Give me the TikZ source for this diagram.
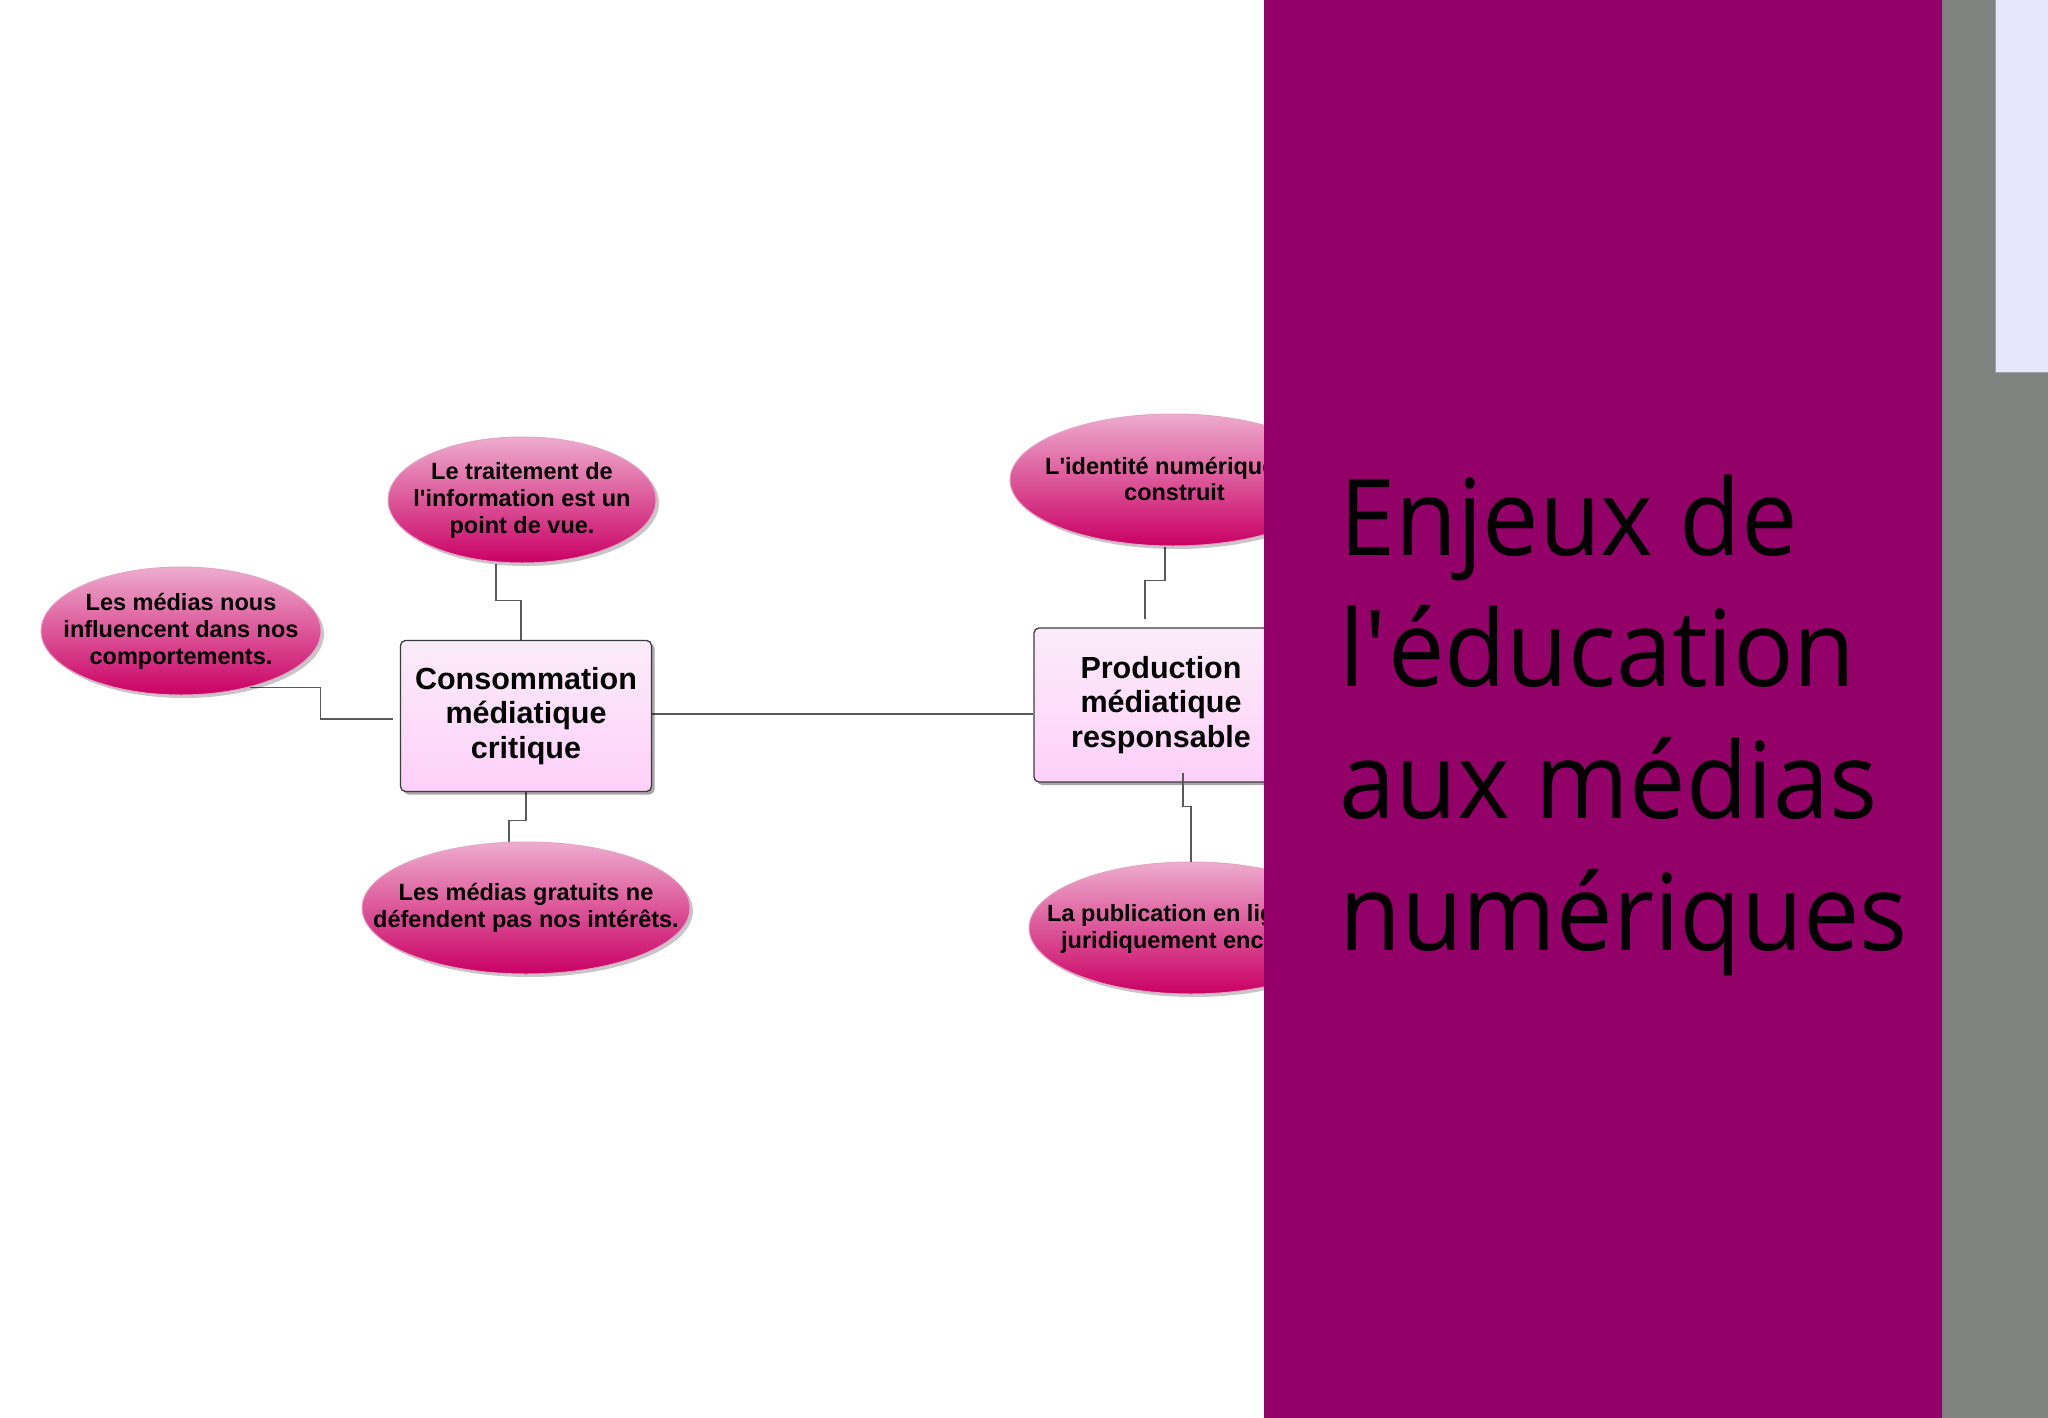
\documentclass[tikz,border=0pt]{standalone}
\usepackage{fontspec}
\setmainfont{Liberation Sans}
\newfontfamily\titlefont[FakeStretch=0.95]{Open Sans}
\usetikzlibrary{shapes.geometric,shadows,calc}
\pgfdeclarelayer{bg}
\pgfsetlayers{bg,main}
\definecolor{panelpurple}{RGB}{147,0,104}
\definecolor{panelgray}{RGB}{128,130,128}
\definecolor{lavender}{RGB}{232,230,252}
\definecolor{elTop}{RGB}{238,172,206}
\definecolor{elMid}{RGB}{214,62,140}
\definecolor{elBot}{RGB}{202,0,100}
\definecolor{elRim}{RGB}{226,165,198}
\definecolor{bxTop}{RGB}{251,236,249}
\definecolor{bxBot}{RGB}{255,208,250}
\definecolor{bxRim}{RGB}{60,60,60}
\definecolor{connc}{RGB}{90,90,90}
\newcommand{\apos}{\textquotesingle}
\begin{document}
\begin{tikzpicture}[x=1pt,y=-1pt,
  bubble/.style={ellipse, draw=elRim, line width=1pt, top color=elTop, middle color=elMid, bottom color=elBot, inner sep=0pt,
    drop shadow={shadow xshift=3pt,shadow yshift=-3pt,fill=black,opacity=0.22}},
  bubbletext/.style={font=\fontsize{23.5}{27}\selectfont\bfseries, align=center, text=black, inner sep=0pt},
  topic/.style={rectangle, rounded corners=5pt, draw=bxRim, line width=1.3pt, top color=bxTop, bottom color=bxBot,
    inner sep=0pt, font=\fontsize{30.5}{34.5}\selectfont\bfseries, align=center, text=black,
    drop shadow={shadow xshift=3pt,shadow yshift=-3pt,fill=black,opacity=0.35}},
  conn/.style={draw=connc, line width=1.1pt},
  titletext/.style={font=\titlefont\fontsize{106}{131}\selectfont, text=black, inner sep=0pt, anchor=base west}]
\useasboundingbox (0,0) rectangle (2048,1418);
\begin{pgfonlayer}{bg}
\fill[white] (0,0) rectangle (2048,1418);
\end{pgfonlayer}

% topics
\node[topic, minimum width=251pt, minimum height=151pt] (b1) at (526,716) {Consommation\\médiatique\\critique};
\node[topic, minimum width=254pt, minimum height=154pt] (b2) at (1161,705) {Production\\médiatique\\responsable};

% bubbles
\node[bubble, minimum width=268pt, minimum height=126pt] (e1) at (522,500) {};
\node[bubbletext] (t1) at (e1) {Le traitement de\\l\apos information est un\\point de vue.};
\node[bubble, minimum width=280pt, minimum height=128pt] (e2) at (181,631) {};
\node[bubbletext] (t2) at (e2) {Les médias nous\\influencent dans nos\\comportements.};
\node[bubble, minimum width=328pt, minimum height=132pt] (e3) at (526,908) {};
\node[bubbletext] (t3) at (e3) {Les médias gratuits ne\\défendent pas nos intérêts.};
\node[bubble, minimum width=326pt, minimum height=132pt] (e4) at (1173,480) {};
\node[bubbletext, anchor=base west] (t4a) at (1045,474) {L\apos identité numérique};
\node[bubbletext, anchor=base west] (t4b) at (1124,500) {construit};
\node[bubble, minimum width=324pt, minimum height=132pt] (e5) at (1191,928) {};
\node[bubbletext, anchor=base west] (t5a) at (1047,921) {La publication en lig};
\node[bubbletext, anchor=base west] (t5b) at (1061,948) {juridiquement enca};

% connectors
\begin{pgfonlayer}{bg}
\draw[conn] ([xshift=-5pt]b1.north) |- ([xshift=-26pt,yshift=-37pt]e1.south) -- ([xshift=-26pt]e1.south);
\draw[conn] (e2.-39.5) -- ++(70,0) |- ([xshift=-7pt,yshift=-3pt]b1.west);
\draw[conn] (b1.south) -- ++(0,28) -| ([xshift=-17pt]e3.north);
\draw[conn] ([yshift=2pt]b1.east) -- ([yshift=2pt]b1.east -| b2.west);
\draw[conn] ([xshift=-8pt]e4.south) -- ++(0,34) -| ([xshift=-16pt,yshift=8pt]b2.north);
\end{pgfonlayer}
\draw[conn] ([xshift=22pt,yshift=10pt]b2.south) -- ++(0,34) -| (e5.north);

% right panels
\fill[panelpurple] (1264,0) rectangle (1942,1418);
\fill[panelgray] (1942,0) rectangle (2048,1418);
\filldraw[fill=lavender, draw={rgb,255:red,160;green,160;blue,170}, line width=1pt] (2048,-2) -- (1995,-2) -- (1995,372) -- (2050,372);

% title
\node[titletext] (h1) at (1339,555) {Enjeux de};
\node[titletext] (h2) at (1339,686) {l\apos éducation};
\node[titletext] (h3) at (1339,818) {aux médias};
\node[titletext] (h4) at (1339,950) {numériques};
\end{tikzpicture}
\end{document}
